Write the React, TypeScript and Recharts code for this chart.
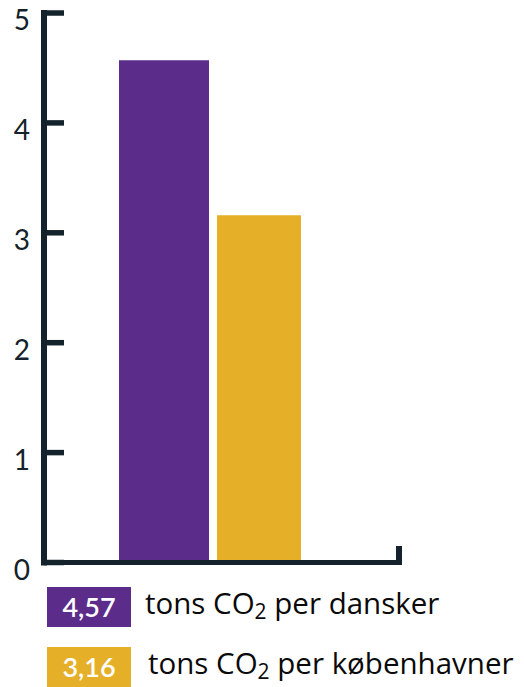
import React from "react";
import { BarChart, Bar, XAxis, YAxis } from "recharts";

const seriesKeys = ["dansker", "kobenhavner"];
const seriesValues = [4.57, 3.16];
const seriesLabels = ["dansker", "københavner"];
const seriesColors = ["#5B2C8A", "#E5B027"];
const yTicks = [0, 1, 2, 3, 4, 5];

const data = [
  seriesKeys.reduce((row: any, k, i) => {
    row[k] = seriesValues[i];
    return row;
  }, { name: "" }),
];

const AXIS = "#14232B";
const FONT = "Lato, 'Open Sans', sans-serif";
const LEGEND_FONT = "'Open Sans', Lato, sans-serif";

const YTick = (props: any) => {
  const { x, y, payload } = props;
  return (
    <g>
      <line x1={x} x2={x + 20} y1={y} y2={y} stroke={AXIS} strokeWidth={5.5} />
      <text x={x - 14} y={y + 17} textAnchor="end" fill={AXIS} fontSize={28} fontFamily={FONT}>
        {payload.value}
      </text>
    </g>
  );
};

const XEnd = (props: any) => {
  const vb = props.viewBox || {};
  const xe = vb.x + vb.width;
  return <line x1={xe} x2={xe} y1={vb.y - 16.5} y2={vb.y + 2.5} stroke={AXIS} strokeWidth={6} />;
};

export default function App() {
  return (
    <div style={{ position: "absolute", left: 0, top: 0, width: 524, height: 687, background: "#fff" }}>
      <BarChart
        width={524}
        height={600}
        data={data}
        margin={{ top: 13, right: 125, bottom: 27.5, left: 0 }}
        barGap={8}
      >
        <XAxis
          dataKey="name"
          height={10}
          tick={false}
          tickLine={false}
          padding={{ left: 0, right: 23 }}
          axisLine={{ stroke: AXIS, strokeWidth: 5, strokeLinecap: "square" }}
          label={{ content: XEnd }}
        />
        <YAxis
          width={44}
          domain={[0, 5]}
          ticks={yTicks}
          interval={0}
          tickSize={0}
          tickMargin={0}
          tickLine={false}
          tick={YTick}
          axisLine={{ stroke: AXIS, strokeWidth: 6, strokeLinecap: "square" }}
        />
        {seriesKeys.map((k, i) => (
          <Bar key={k} dataKey={k} fill={seriesColors[i]} barSize={i === 0 ? 90 : 84} isAnimationActive={false} />
        ))}
      </BarChart>
      <div style={{ position: "absolute", left: 47, top: 587, fontFamily: LEGEND_FONT }}>
        {seriesValues.map((v, i) => (
          <div key={i} style={{ display: "flex", alignItems: "center", height: 40, marginBottom: 20 }}>
            <div
              style={{
                width: 84,
                height: 40,
                background: seriesColors[i],
                color: "#fff",
                fontSize: 27,
                fontWeight: 600,
                lineHeight: "40px",
                textAlign: "center",
                fontFamily: FONT,
              }}
            >
              {v.toFixed(2).replace(".", ",")}
            </div>
            <div
              style={{
                marginLeft: 14 + i * 3,
                fontSize: 29.5,
                lineHeight: "40px",
                color: "#0a0a0a",
                whiteSpace: "nowrap",
              }}
            >
              tons CO<sub style={{ fontSize: 21, verticalAlign: "-5px" }}>2</sub> per {seriesLabels[i]}
            </div>
          </div>
        ))}
      </div>
    </div>
  );
}
